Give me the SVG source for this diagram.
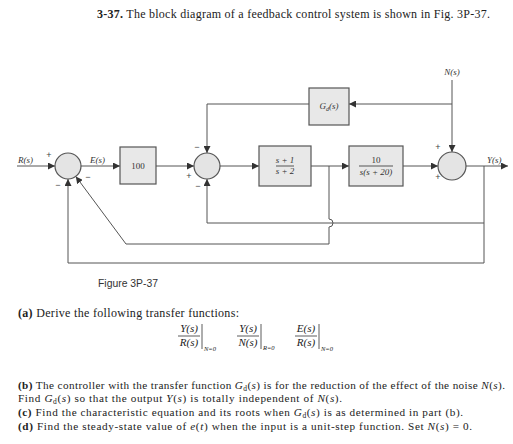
<svg xmlns="http://www.w3.org/2000/svg" width="513" height="444" viewBox="0 0 513 444">
<defs>
<marker id="ah" viewBox="0 0 8 8" refX="8" refY="4" markerWidth="7" markerHeight="7" markerUnits="userSpaceOnUse" orient="auto">
<path d="M0,0 L8,4 L0,8 z" fill="#333"/>
</marker>
</defs>
<style>
.blk{fill:#e8e8e8;stroke:#555;stroke-width:1.2}
.sum{fill:#e4e4e4;stroke:#555;stroke-width:1.2}
.ln{fill:none;stroke:#555;stroke-width:1}
.arr{fill:none;stroke:#555;stroke-width:1;marker-end:url(#ah)}
.t{font-family:"Liberation Serif",serif;fill:#222}
.i{font-style:italic}
.s{font-family:"Liberation Serif",serif;fill:#333;font-size:9px}
.lab{font-family:"Liberation Serif",serif;font-style:italic;fill:#333;font-size:9px}
.sg{font-family:"Liberation Sans",sans-serif;fill:#444;font-size:9px;text-anchor:middle}
</style>
<rect width="513" height="444" fill="#fff"/>
<text class="t" x="97" y="18" font-size="12" textLength="393" lengthAdjust="spacing"><tspan font-weight="bold">3-37.</tspan>  The block diagram of a feedback control system is shown in Fig. 3P-37.</text>

<g id="connectors">
<line class="arr" x1="17" y1="166" x2="55" y2="166"/>
<line class="arr" x1="81" y1="166" x2="120" y2="166"/>
<line class="arr" x1="156" y1="166" x2="194" y2="166"/>
<line class="arr" x1="220" y1="166" x2="259" y2="166"/>
<line class="arr" x1="311" y1="166" x2="349" y2="166"/>
<line class="arr" x1="403" y1="166" x2="438" y2="166"/>
<line class="arr" x1="466" y1="166" x2="508" y2="166"/>
<line class="arr" x1="452" y1="80" x2="452" y2="152"/>
<line class="arr" x1="452" y1="104" x2="349" y2="104"/>
<polyline class="arr" points="309,104 207,104 207,153"/>
<polyline class="arr" points="484,166 484,263 68,263 68,179"/>
<polyline class="arr" points="484,223 207,223 207,179"/>
<path class="arr" d="M329,166 V219 A4,4 0 0,1 329,227 V244 H126 L75.8,176.4"/>
</g>

<g id="sum1"><circle class="sum" cx="68" cy="166" r="13"/>
<text class="sg" x="49" y="158">+</text><text class="sg" x="58" y="188">−</text><text class="sg" x="88" y="180">−</text></g>
<g id="sum2"><circle class="sum" cx="207" cy="166" r="13"/>
<text class="sg" x="197" y="150">−</text><text class="sg" x="189" y="179">+</text><text class="sg" x="198" y="189">−</text></g>
<g id="sum3"><circle class="sum" cx="452" cy="166" r="14"/>
<text class="sg" x="438" y="150">+</text><text class="sg" x="438" y="180">+</text></g>

<g id="gain100"><rect class="blk" x="120" y="147" width="36" height="37"/>
<text class="s" x="138" y="169" text-anchor="middle" font-size="8">100</text></g>
<g id="gd"><rect class="blk" x="309" y="88" width="40" height="37"/>
<text class="lab" x="329" y="109" text-anchor="middle" font-size="8">G<tspan font-size="6" dy="2">d</tspan><tspan dy="-2">(s)</tspan></text></g>
<g id="comp"><rect class="blk" x="259" y="146" width="52" height="40"/>
<text class="lab" x="285" y="163" text-anchor="middle" font-size="8">s + 1</text>
<line class="ln" x1="276" y1="166" x2="294" y2="166"/>
<text class="lab" x="285" y="174" text-anchor="middle" font-size="8">s + 2</text></g>
<g id="plant"><rect class="blk" x="349" y="146" width="54" height="40"/>
<text class="s" x="376" y="163" text-anchor="middle" font-size="8">10</text>
<line class="ln" x1="359" y1="166" x2="393" y2="166"/>
<text class="lab" x="376" y="175" text-anchor="middle" font-size="8">s(s + 20)</text></g>

<g id="labels">
<text class="lab" x="18" y="163">R(s)</text>
<text class="lab" x="90" y="163">E(s)</text>
<text class="lab" x="487" y="163">Y(s)</text>
<text class="lab" x="452" y="75" text-anchor="middle">N(s)</text>
</g>

<text x="98" y="287" font-family="Liberation Sans Narrow, Liberation Sans, sans-serif" font-size="10" fill="#333" textLength="60" lengthAdjust="spacingAndGlyphs">Figure 3P-37</text>

<text class="t" x="18" y="317" font-size="12" textLength="221" lengthAdjust="spacing"><tspan font-weight="bold">(a)</tspan> Derive the following transfer functions:</text>
<g font-family="Liberation Serif, serif" font-size="11" fill="#222" font-style="italic">
<text x="189" y="332" text-anchor="middle">Y(s)</text><line x1="178" y1="336" x2="200" y2="336" stroke="#333" stroke-width="0.8"/><text x="189" y="346" text-anchor="middle">R(s)</text>
<line x1="202" y1="324" x2="202" y2="349" stroke="#333" stroke-width="0.8"/><text x="204" y="351" font-size="6.5">N=0</text>
<text x="248" y="332" text-anchor="middle">Y(s)</text><line x1="237" y1="336" x2="259" y2="336" stroke="#333" stroke-width="0.8"/><text x="248" y="346" text-anchor="middle">N(s)</text>
<line x1="261" y1="324" x2="261" y2="349" stroke="#333" stroke-width="0.8"/><text x="263" y="350" font-size="6.5">R=0</text>
<text x="306" y="332" text-anchor="middle">E(s)</text><line x1="295" y1="336" x2="317" y2="336" stroke="#333" stroke-width="0.8"/><text x="306" y="346" text-anchor="middle">R(s)</text>
<line x1="319" y1="324" x2="319" y2="349" stroke="#333" stroke-width="0.8"/><text x="321" y="351" font-size="6.5">N=0</text>
</g>

<g class="t" font-size="11.2">
<text x="18" y="389" textLength="487" lengthAdjust="spacing"><tspan font-weight="bold">(b)</tspan> The controller with the transfer function <tspan class="i">G</tspan><tspan font-size="7.5" dy="2">d</tspan><tspan dy="-2">(</tspan><tspan class="i">s</tspan>) is for the reduction of the effect of the noise <tspan class="i">N</tspan>(<tspan class="i">s</tspan>).</text>
<text x="18" y="402" textLength="324" lengthAdjust="spacing">Find <tspan class="i">G</tspan><tspan font-size="7.5" dy="2">d</tspan><tspan dy="-2">(</tspan><tspan class="i">s</tspan>) so that the output <tspan class="i">Y</tspan>(<tspan class="i">s</tspan>) is totally independent of <tspan class="i">N</tspan>(<tspan class="i">s</tspan>).</text>
<text x="18" y="416" textLength="445" lengthAdjust="spacing"><tspan font-weight="bold">(c)</tspan> Find the characteristic equation and its roots when <tspan class="i">G</tspan><tspan font-size="7.5" dy="2">d</tspan><tspan dy="-2">(</tspan><tspan class="i">s</tspan>) is as determined in part (b).</text>
<text x="18" y="430" textLength="454" lengthAdjust="spacing"><tspan font-weight="bold">(d)</tspan> Find the steady-state value of <tspan class="i">e</tspan>(<tspan class="i">t</tspan>) when the input is a unit-step function. Set <tspan class="i">N</tspan>(<tspan class="i">s</tspan>) = 0.</text>
</g>
</svg>
